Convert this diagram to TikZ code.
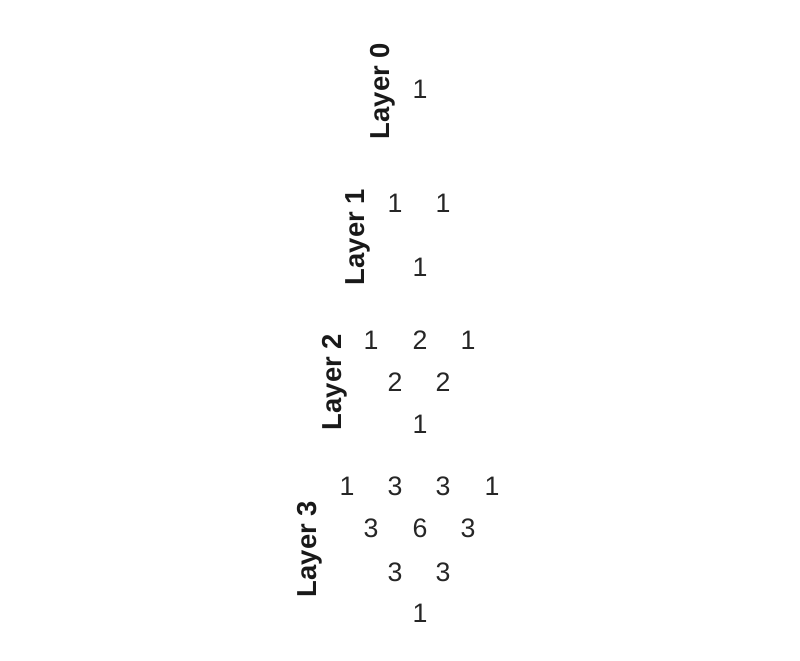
\documentclass[tikz,border=0pt]{standalone}
\usepackage{fontspec}
\setmainfont{Liberation Sans}
\begin{document}
\begin{tikzpicture}[
                      x=0.025cm,
                      y=-0.025cm,
                  ]
                  \tikzset{
                      entry/.style = {inner sep=0pt, text=black!85, font=\fontsize{19}{21}\selectfont},
                      layer_lbl/.style = {inner sep=0pt, rotate=90, text=black!90, font=\fontsize{19.5}{22}\selectfont\bfseries},
                  }

                  % Page
                  \useasboundingbox (0,0) rectangle (800,661);

                  % Layer 0
                  \node[layer_lbl] (lbl0) at (383,91) {Layer 0};
                  \node[entry] (a00) at (420,89.5) {1};

                  % Layer 1
                  \node[layer_lbl] (lbl1) at (358,237) {Layer 1};
                  \node[entry] (b00) at (395,203) {1};
                  \node[entry] (b01) at (443,203) {1};
                  \node[entry] (b10) at (420,267.5) {1};

                  % Layer 2
                  \node[layer_lbl] (lbl2) at (335,382) {Layer 2};
                  \node[entry] (c00) at (371,340) {1};
                  \node[entry] (c01) at (420,340) {2};
                  \node[entry] (c02) at (468,340) {1};
                  \node[entry] (c10) at (395,382) {2};
                  \node[entry] (c11) at (443,382) {2};
                  \node[entry] (c20) at (420,424.5) {1};

                  % Layer 3
                  \node[layer_lbl] (lbl3) at (310,549) {Layer 3};
                  \node[entry] (d00) at (347,486) {1};
                  \node[entry] (d01) at (395,486) {3};
                  \node[entry] (d02) at (443,486) {3};
                  \node[entry] (d03) at (492,486) {1};
                  \node[entry] (d10) at (371,528) {3};
                  \node[entry] (d11) at (420,528) {6};
                  \node[entry] (d12) at (468,528) {3};
                  \node[entry] (d20) at (395,572) {3};
                  \node[entry] (d21) at (443,572) {3};
                  \node[entry] (d30) at (420,613) {1};

              \end{tikzpicture}
\end{document}
